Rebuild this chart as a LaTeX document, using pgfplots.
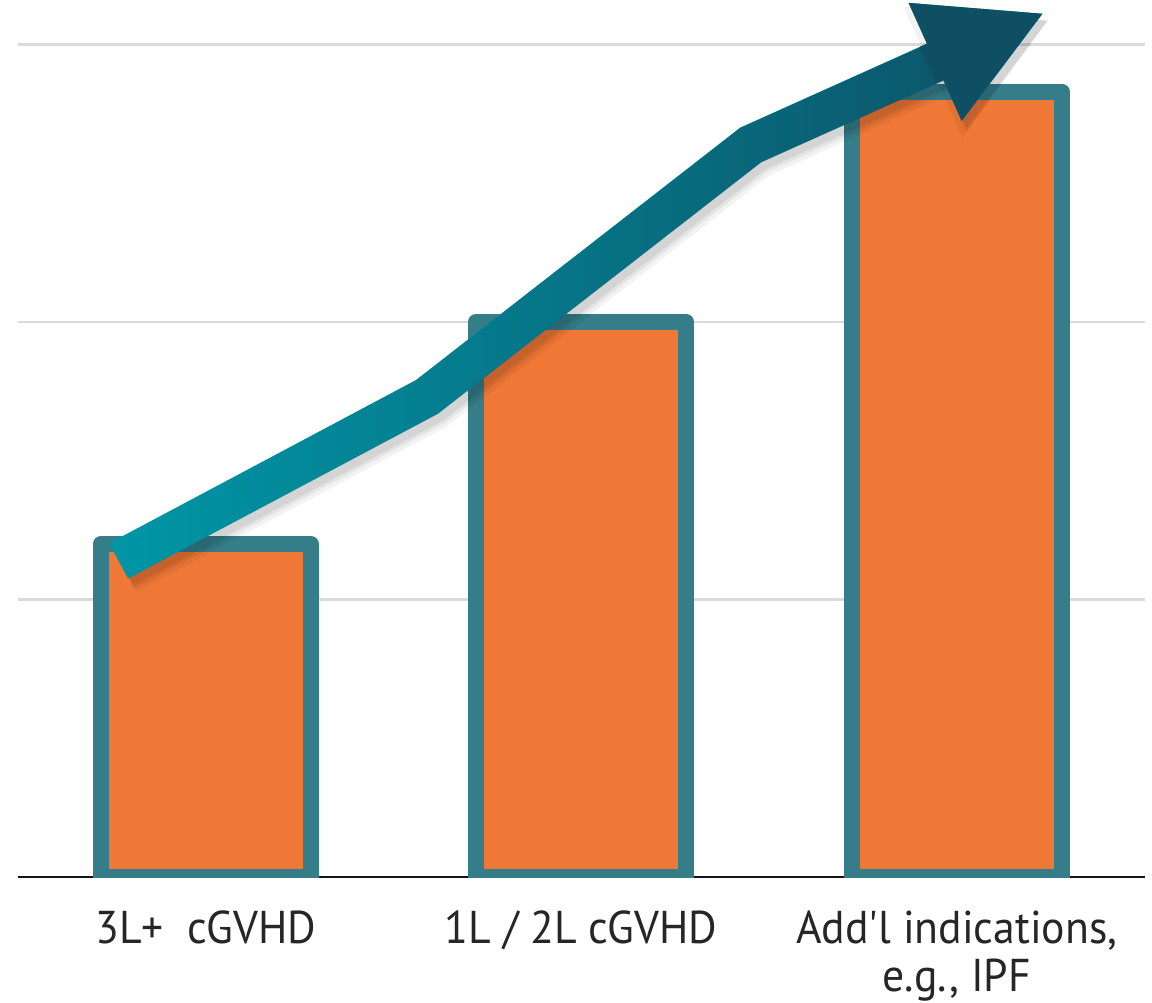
\documentclass[border=0pt]{standalone}
\usepackage{pgfplots}
\pgfplotsset{compat=1.18}
\usepackage{fontspec}
\setmainfont{PT Sans}[FakeStretch=0.95]
\usetikzlibrary{arrows.meta,fadings}

\definecolor{barfill}{HTML}{F07837}
\definecolor{barline}{HTML}{357D89}
\definecolor{gridgrey}{HTML}{DADADA}
\definecolor{axisblack}{HTML}{141414}
\definecolor{labelgrey}{HTML}{262626}
\definecolor{arrowlight}{HTML}{0098A8}
\definecolor{arrowdark}{HTML}{0E4F64}

\begin{document}
\begin{tikzpicture}
\useasboundingbox (-9pt,-62.5pt) rectangle (567pt,438.5pt);
\begin{axis}[
  scale only axis, width=563.25pt, height=438.5pt,
  xmin=-0.5, xmax=2.5, ymin=0, ymax=3.16,
  axis x line*=bottom, axis y line*=left,
  y axis line style={draw=none},
  x axis line style={-, draw=axisblack, line width=1.3pt},
  xtick={0,1,2},
  xticklabels={3L+\ \ cGVHD, 1L / 2L cGVHD, {Add\textquotesingle l indications,\\e.g., IPF}},
  ytick={1,2,3}, yticklabels={},
  ymajorgrids, grid style={gridgrey, line width=1.3pt},
  major tick length=0pt,
  xticklabel style={font=\fontsize{23}{24}\selectfont, text=labelgrey, align=center, yshift=-13.5pt},
]
% bars
\addplot[ybar, bar width=0.56, fill=barfill, draw=barline, line width=8pt, line join=round]
  coordinates {(0,1.2) (1,2.0) (2,2.83)};

% soft shadow under the arrow
\addplot[black, opacity=0.05, line width=27pt, xshift=2.5pt, yshift=-3.5pt, line join=miter,
  -{Triangle[length=64pt, width=67pt]}]
  coordinates {(-0.232,1.139) (0.589,1.730) (1.451,2.638) (2.234,3.114)};
\addplot[black, opacity=0.06, line width=23pt, xshift=2.5pt, yshift=-3.5pt, line join=miter,
  -{Triangle[length=61pt, width=63pt]}]
  coordinates {(-0.232,1.139) (0.589,1.730) (1.451,2.638) (2.234,3.114)};
\addplot[black, opacity=0.07, line width=20pt, xshift=2.5pt, yshift=-3.5pt, line join=miter,
  -{Triangle[length=60pt, width=60pt]}]
  coordinates {(-0.232,1.139) (0.589,1.730) (1.451,2.638) (2.234,3.114)};

% arrow: light base, dark layer fading in towards the head, solid dark head
\addplot[arrowlight, line width=20pt, line join=miter, -{Triangle[length=60pt, width=60pt]}]
  coordinates {(-0.232,1.139) (0.589,1.730) (1.451,2.638) (2.234,3.114)};
\addplot[arrowdark, line width=20pt, line join=miter, path fading=west, shorten >=58pt]
  coordinates {(-0.232,1.139) (0.589,1.730) (1.451,2.638) (2.234,3.114)};
\addplot[arrowdark, line width=20pt, shorten <=97pt, -{Triangle[length=60pt, width=60pt]}]
  coordinates {(1.451,2.638) (2.234,3.114)};
\end{axis}
\end{tikzpicture}
\end{document}
